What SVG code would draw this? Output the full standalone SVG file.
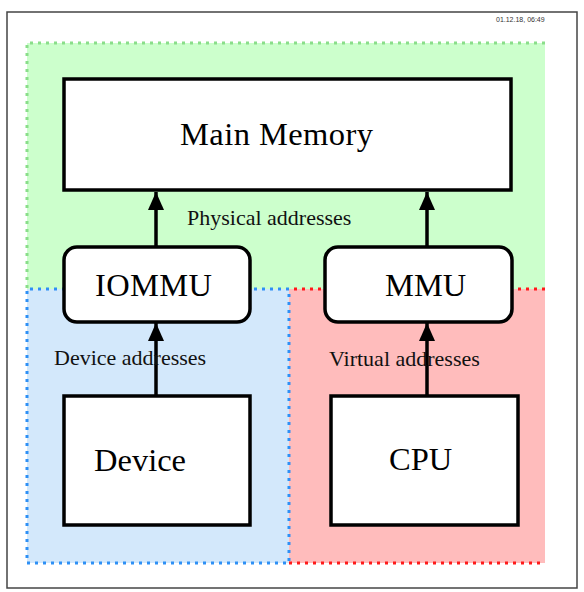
<svg xmlns="http://www.w3.org/2000/svg" width="584" height="592" viewBox="0 0 584 592">
<style>
.box{fill:#fff;stroke:#000;stroke-width:3.5}
.lbl{font-family:"Liberation Serif",serif;font-size:32.5px;fill:#000}
.edge{font-family:"Liberation Serif",serif;font-size:22px;fill:#111}
.ln{stroke:#000;stroke-width:3.5;fill:none}
.dot{fill:none;stroke-width:3;stroke-dasharray:3 5}
</style>
<defs>
<marker id="ah" viewBox="0 0 18 16" refX="18" refY="8" markerWidth="18" markerHeight="16" markerUnits="userSpaceOnUse" orient="auto">
<path d="M0,0 L18,8 L0,16 Z" fill="#000"/>
</marker>
</defs>
<rect x="0" y="0" width="584" height="592" fill="#fff"/>
<rect x="7" y="12" width="570" height="576" fill="#fff" stroke="#444" stroke-width="1.5"/>
<text x="496" y="22" font-family="Liberation Sans,sans-serif" font-size="7" fill="#333">01.12.18, 06:49</text>
<g id="regions">
<rect x="27" y="43" width="518" height="246" fill="#ccffcc"/>
<rect x="289" y="289" width="256" height="274" fill="#ffbcbc"/>
<rect x="27" y="289" width="262" height="274" fill="#d3e8fb"/>
<path class="dot" d="M545,43 H27 V289" stroke="#8ade8a"/>
<path class="dot" d="M545,289 H289 M289,563 H545" stroke="#ff1a1a"/>
<path class="dot" d="M289,289 H27 V563 H289 Z" stroke="#2e90f5"/>
</g>
<g id="connectors">
<line class="ln" x1="156" y1="247" x2="156" y2="192" marker-end="url(#ah)"/>
<line class="ln" x1="427" y1="247" x2="427" y2="192" marker-end="url(#ah)"/>
<line class="ln" x1="156" y1="396" x2="156" y2="323" marker-end="url(#ah)"/>
<line class="ln" x1="427" y1="396" x2="427" y2="323" marker-end="url(#ah)"/>
<text class="edge" x="187" y="225">Physical addresses</text>
<text class="edge" x="54" y="365">Device addresses</text>
<text class="edge" x="329" y="366">Virtual addresses</text>
</g>
<g id="main-memory">
<rect class="box" x="64" y="79" width="447" height="111"/>
<text class="lbl" x="180" y="145" textLength="193">Main Memory</text>
</g>
<g id="iommu">
<rect class="box" x="64" y="247" width="186" height="75" rx="13"/>
<text class="lbl" x="95" y="296" textLength="117">IOMMU</text>
</g>
<g id="mmu">
<rect class="box" x="325" y="247" width="187" height="75" rx="13"/>
<text class="lbl" x="385" y="296">MMU</text>
</g>
<g id="device">
<rect class="box" x="64" y="396" width="186" height="129"/>
<text class="lbl" x="94" y="471">Device</text>
</g>
<g id="cpu">
<rect class="box" x="331" y="396" width="187" height="129"/>
<text class="lbl" x="389" y="470">CPU</text>
</g>
</svg>
